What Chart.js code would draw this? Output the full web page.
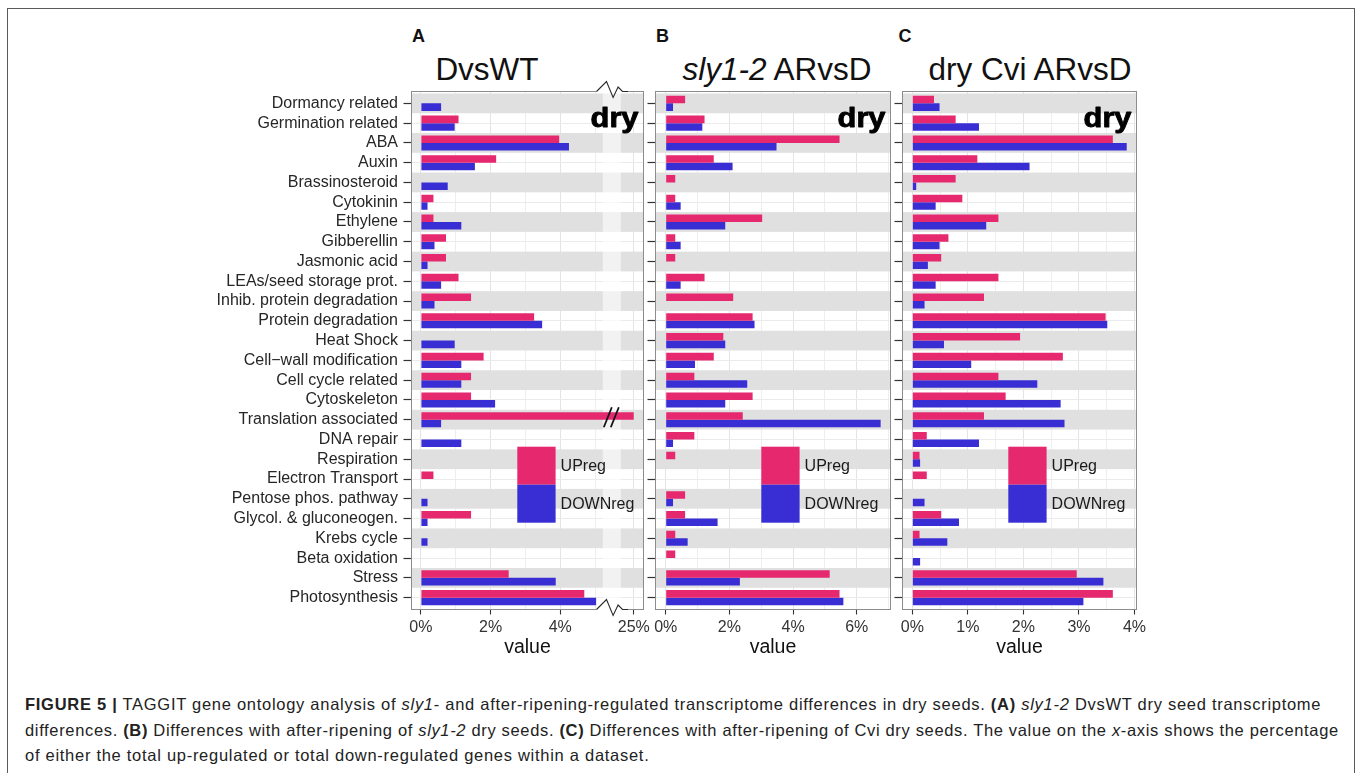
<!DOCTYPE html>
<html>
<head>
<meta charset="utf-8">
<title>TAGGIT gene ontology – dry seeds</title>
<script src="https://cdn.jsdelivr.net/npm/chart.js@4.4.1/dist/chart.umd.min.js"></script>
<style>
  html, body { margin: 0; padding: 0; background: #fff; }
  body { width: 1357px; height: 773px; position: relative; overflow: hidden;
         font-family: "Liberation Sans", Arial, Helvetica, sans-serif; color: #111; }
  .frame { position: absolute; left: 7px; top: 8px; width: 1348px; height: 820px;
           border: 1.5px solid #5a5a5a; box-sizing: border-box; }
  canvas { position: absolute; top: 0; }
  .letter { position: absolute; font-weight: bold; font-size: 18px; line-height: 18px; }
  .ptitle { position: absolute; width: 320px; text-align: center; font-size: 31.5px;
            line-height: 31.5px; white-space: nowrap; color: #111; }
  .cap { position: absolute; left: 25px; font-size: 16.5px; line-height: 16.5px;
         letter-spacing: 0.72px; white-space: nowrap; color: #222; }
</style>
</head>
<body>
<div class="frame"></div>

<div class="letter" style="left:412px; top:27.1px;">A</div>
<div class="letter" style="left:656px; top:27.1px;">B</div>
<div class="letter" style="left:898.5px; top:27.1px;">C</div>

<div class="ptitle" style="left:327px; top:54px;">DvsWT</div>
<div class="ptitle" style="left:617px; top:54px;"><i>sly1-2</i> ARvsD</div>
<div class="ptitle" style="left:870px; top:54px;">dry Cvi ARvsD</div>

<canvas id="panelA" width="670" height="675" style="left:0px;"></canvas>
<canvas id="panelB" width="279" height="675" style="left:636px;"></canvas>
<canvas id="panelC" width="283" height="675" style="left:882px;"></canvas>

<div class="cap" style="top:696px;"><b>FIGURE 5 |</b> TAGGIT gene ontology analysis of <i>sly1</i>- and after-ripening-regulated transcriptome differences in dry seeds. <b>(A)</b> <i>sly1-2</i> DvsWT dry seed transcriptome</div>
<div class="cap" style="top:722px; letter-spacing:0.66px;">differences. <b>(B)</b> Differences with after-ripening of <i>sly1-2</i> dry seeds. <b>(C)</b> Differences with after-ripening of Cvi dry seeds. The value on the <i>x</i>-axis shows the percentage</div>
<div class="cap" style="top:747px;">of either the total up-regulated or total down-regulated genes within a dataset.</div>

<script>
// ---- Categories (TAGGIT ontology classes), top to bottom ----
const categories = [
  'Dormancy related', 'Germination related', 'ABA', 'Auxin', 'Brassinosteroid',
  'Cytokinin', 'Ethylene', 'Gibberellin', 'Jasmonic acid', 'LEAs/seed storage prot.',
  'Inhib. protein degradation', 'Protein degradation', 'Heat Shock',
  'Cell\u2212wall modification', 'Cell cycle related', 'Cytoskeleton',
  'Translation associated', 'DNA repair', 'Respiration', 'Electron Transport',
  'Pentose phos. pathway', 'Glycol. & gluconeogen.', 'Krebs cycle',
  'Beta oxidation', 'Stress', 'Photosynthesis'
];
const seriesNames = ['UPreg', 'DOWNreg'];
const stateLabel = 'dry';

// ---- % of up- / down-regulated genes per class ----
// (A) sly1-2 DvsWT
const dvsWTUp   = [0, 1.08, 3.97, 2.16, 0, 0.36, 0.36, 0.72, 0.72, 1.08, 1.44, 3.25, 0,
                   1.80, 1.44, 1.44, 25, 0, 0, 0.36, 0, 1.44, 0, 0, 2.52, 4.69];
const dvsWTDown = [0.58, 0.97, 4.25, 1.55, 0.77, 0.19, 1.16, 0.39, 0.19, 0.58, 0.39, 3.48, 0.97,
                   1.16, 1.16, 2.13, 0.58, 1.16, 0, 0, 0.19, 0.19, 0.19, 0, 3.87, 5.03];
// (B) sly1-2 ARvsD
const sly12Up   = [0.61, 1.22, 5.46, 1.51, 0.30, 0.30, 3.03, 0.30, 0.30, 1.22, 2.12, 2.73, 1.81,
                   1.51, 0.90, 2.73, 2.42, 0.90, 0.30, 0, 0.61, 0.61, 0.30, 0.30, 5.15, 5.46];
const sly12Down = [0.23, 1.15, 3.48, 2.10, 0, 0.47, 1.87, 0.47, 0, 0.47, 0, 2.79, 1.87,
                   0.92, 2.56, 1.87, 6.75, 0.23, 0, 0, 0.23, 1.63, 0.69, 0, 2.33, 5.58];
// (C) dry Cvi ARvsD
const cviUp     = [0.39, 0.78, 3.61, 1.17, 0.78, 0.90, 1.55, 0.65, 0.52, 1.55, 1.29, 3.48, 1.94,
                   2.71, 1.55, 1.68, 1.29, 0.26, 0.13, 0.26, 0, 0.52, 0.13, 0, 2.96, 3.61];
const cviDown   = [0.49, 1.20, 3.86, 2.11, 0.07, 0.42, 1.33, 0.49, 0.28, 0.42, 0.22, 3.51, 0.57,
                   1.06, 2.25, 2.67, 2.74, 1.20, 0.14, 0, 0.22, 0.84, 0.63, 0.14, 3.44, 3.08];

// ---- x-axis ticks (grid at all, labels at the listed ones) ----
const dvsWTTicks = [0, 1, 2, 3, 4, 5, 25];
const dvsWTLabelled = [0, 2, 4, 25];
const sly12Ticks = [0, 1, 2, 3, 4, 5, 6, 7];
const sly12Labelled = [0, 2, 4, 6];
const cviTicks = [0, 0.5, 1, 1.5, 2, 2.5, 3, 3.5, 4];
const cviLabelled = [0, 1, 2, 3, 4];

const UP_COLOR = '#e6296f';
const DOWN_COLOR = '#382ed3';
const ROW_SHADE = '#e0e0e0';
const FONT = '"Liberation Sans", Arial, Helvetica, sans-serif';

Chart.defaults.font.family = FONT;

// Discrete axis with ggplot-like expansion (0.6 of a category on each side)
class PaddedCategoryScale extends Chart.CategoryScale {
  static id = 'paddedCategory';
  static defaults = {};
  buildTicks() {
    const ticks = super.buildTicks();
    const pad = this.options.expand;
    if (typeof pad === 'number') {
      this._startValue = this.min - pad;
      this._valueRange = this.max - this.min + 2 * pad;
    }
    return ticks;
  }
}

// Linear axis with a cut: values above `to` continue right after a short gap
class BrokenLinearScale extends Chart.LinearScale {
  static id = 'brokenLinear';
  static defaults = {};
  fold(v) {
    const b = this.options.axisBreak;
    if (!b || v === null || v === undefined || v <= b.from) return v;
    return Math.max(v - b.to, 0) + b.from + b.gap;
  }
  getPixelForValue(v) {
    return super.getPixelForValue(this.fold(v));
  }
  gapPixels() {
    const b = this.options.axisBreak;
    return [super.getPixelForValue(b.from), super.getPixelForValue(b.from + b.gap)];
  }
}
Chart.register(PaddedCategoryScale, BrokenLinearScale);

// Row shading, panel frame, axis-break marks, state tag and key
const panelDecor = {
  id: 'panelDecor',
  beforeDatasetsDraw(chart, args, opts) {
    const { ctx, chartArea: a, scales: { x, y } } = chart;
    ctx.save();
    ctx.fillStyle = ROW_SHADE;
    chart.data.labels.forEach((_, i) => {
      if (i % 2) return;
      const t = y.getPixelForValue(i - 0.5);
      const b = y.getPixelForValue(i + 0.5);
      ctx.fillRect(a.left, t, a.right - a.left, b - t);
    });
    if (x.gapPixels) {
      const [g0, g1] = x.gapPixels();
      ctx.fillStyle = 'rgba(255,255,255,0.58)';
      ctx.fillRect(g0, a.top, g1 - g0, a.bottom - a.top);
    }
    ctx.restore();
  },
  afterDatasetsDraw(chart, args, opts) {
    const { ctx, chartArea: a, scales: { x } } = chart;
    ctx.save();
    // frame
    ctx.strokeStyle = '#8c8c8c';
    ctx.lineWidth = 1;
    ctx.strokeRect(a.left, a.top, a.right - a.left, a.bottom - a.top);

    // axis break: zig-zags on the frame and "//" across long bars
    if (x.gapPixels) {
      const [g0, g1] = x.gapPixels();
      const gc = (g0 + g1) / 2;
      const zig = [[-15.3, 0], [-5.3, -10], [1.3, 6], [6.3, -4.5], [10.7, 0], [16.3, 0]];
      [a.top, a.bottom].forEach(ey => {
        ctx.strokeStyle = '#ffffff';
        ctx.lineWidth = 3;
        ctx.beginPath();
        ctx.moveTo(gc + zig[0][0], ey);
        ctx.lineTo(gc + zig[zig.length - 1][0], ey);
        ctx.stroke();
        ctx.strokeStyle = '#2a2a2a';
        ctx.lineWidth = 1.1;
        ctx.beginPath();
        zig.forEach(([dx, dy], k) => k ? ctx.lineTo(gc + dx, ey + dy) : ctx.moveTo(gc + dx, ey + dy));
        ctx.stroke();
      });
      const b = x.options.axisBreak;
      chart.data.datasets.forEach((ds, di) => {
        const meta = chart.getDatasetMeta(di);
        ds.data.forEach((v, i) => {
          if (v <= b.from) return;
          const bar = meta.data[i];
          const yc = bar.y + 1.3;
          ctx.strokeStyle = '#111';
          ctx.lineWidth = 1.8;
          for (let k = 0; k < 2; k++) {
            ctx.beginPath();
            ctx.moveTo(gc - 8 + 7 * k, yc + 10);
            ctx.lineTo(gc + 7 * k, yc - 10);
            ctx.stroke();
          }
        });
      });
    }

    // state tag in the top-right corner
    ctx.save();
    ctx.fillStyle = '#000';
    ctx.strokeStyle = '#000';
    ctx.lineWidth = 0.9;
    ctx.lineJoin = 'round';
    ctx.font = 'bold 28px ' + FONT;
    ctx.textAlign = 'right';
    ctx.textBaseline = 'alphabetic';
    ctx.translate(a.right - 5, a.top + 35.5);
    ctx.scale(1.1, 1);
    ctx.fillText(opts.tag, 0, 0);
    ctx.strokeText(opts.tag, 0, 0);
    ctx.restore();

    // key
    const s = 38;
    const lx = a.left + opts.keyLeft;
    const ly = a.top + opts.keyTop;
    ctx.font = '16px ' + FONT;
    ctx.textAlign = 'left';
    ctx.textBaseline = 'middle';
    chart.data.datasets.forEach((ds, i) => {
      ctx.fillStyle = ds.backgroundColor;
      ctx.fillRect(lx, ly + i * s, s + 0.3, s);
      ctx.fillStyle = '#1a1a1a';
      ctx.fillText(ds.label, lx + s + 5.3, ly + i * s + s / 2 + 0.5);
    });
    ctx.restore();
  }
};

function makePanel(id, cfg) {
  const labelled = cfg.labelled;
  return new Chart(document.getElementById(id), {
    type: 'bar',
    data: {
      labels: categories,
      datasets: [
        { label: seriesNames[0], data: cfg.up, backgroundColor: UP_COLOR, borderWidth: 0 },
        { label: seriesNames[1], data: cfg.down, backgroundColor: DOWN_COLOR, borderWidth: 0 }
      ]
    },
    options: {
      indexAxis: 'y',
      responsive: false,
      animation: false,
      events: [],
      categoryPercentage: 0.76,
      barPercentage: 1.0,
      layout: { padding: cfg.padding },
      scales: {
        x: {
          type: cfg.axisBreak ? 'brokenLinear' : 'linear',
          axisBreak: cfg.axisBreak,
          min: cfg.min,
          max: cfg.max,
          bounds: 'data',
          afterBuildTicks: (s) => { s.ticks = cfg.ticks.map(v => ({ value: v })); },
          afterFit: (s) => { s.height = 65.5; },
          border: { display: false },
          grid: {
            color: (c) => labelled.includes(c.tick && c.tick.value) ? '#e4e4e4' : '#eeeeee',
            lineWidth: 1,
            drawTicks: true,
            tickLength: 5,
            tickWidth: 1.1,
            tickColor: (c) => labelled.includes(c.tick && c.tick.value) ? '#333' : 'rgba(0,0,0,0)'
          },
          ticks: {
            autoSkip: false,
            maxRotation: 0,
            padding: 3.5,
            color: '#333',
            font: { size: 16 },
            callback: (v) => labelled.includes(v) ? v + '%' : ''
          },
          title: {
            display: true,
            text: 'value',
            color: '#111',
            font: { size: 19.5 },
            padding: { top: 0, bottom: 16 }
          }
        },
        y: {
          type: 'paddedCategory',
          expand: 0.6,
          afterFit: (s) => { s.width = cfg.yWidth; },
          border: { display: false },
          grid: {
            offset: false,
            color: '#ebebeb',
            lineWidth: 1,
            drawTicks: true,
            tickLength: 8,
            tickWidth: 1.2,
            tickColor: '#333'
          },
          ticks: {
            display: cfg.showLabels,
            autoSkip: false,
            padding: 5.5,
            color: '#262626',
            font: { size: 16 }
          }
        }
      },
      plugins: {
        legend: { display: false },
        tooltip: { enabled: false },
        panelDecor: { tag: stateLabel, keyLeft: 105.8, keyTop: 355.2 }
      }
    },
    plugins: [panelDecor]
  });
}

makePanel('panelA', {
  up: dvsWTUp, down: dvsWTDown,
  ticks: dvsWTTicks, labelled: dvsWTLabelled,
  min: -0.27, max: 6.39,
  axisBreak: { from: 5.22, to: 24.63, gap: 0.52 },
  padding: { left: 0, right: 26.5, top: 91.5, bottom: 0 },
  yWidth: 411.5, showLabels: true
});
makePanel('panelB', {
  up: sly12Up, down: sly12Down,
  ticks: sly12Ticks, labelled: sly12Labelled,
  min: -0.32, max: 7.06,
  padding: { left: 11.5, right: 24.5, top: 91.5, bottom: 0 },
  yWidth: 8, showLabels: false
});
makePanel('panelC', {
  up: cviUp, down: cviDown,
  ticks: cviTicks, labelled: cviLabelled,
  min: -0.177, max: 4.036,
  padding: { left: 12.5, right: 28.5, top: 91.5, bottom: 0 },
  yWidth: 8, showLabels: false
});
</script>
</body>
</html>
